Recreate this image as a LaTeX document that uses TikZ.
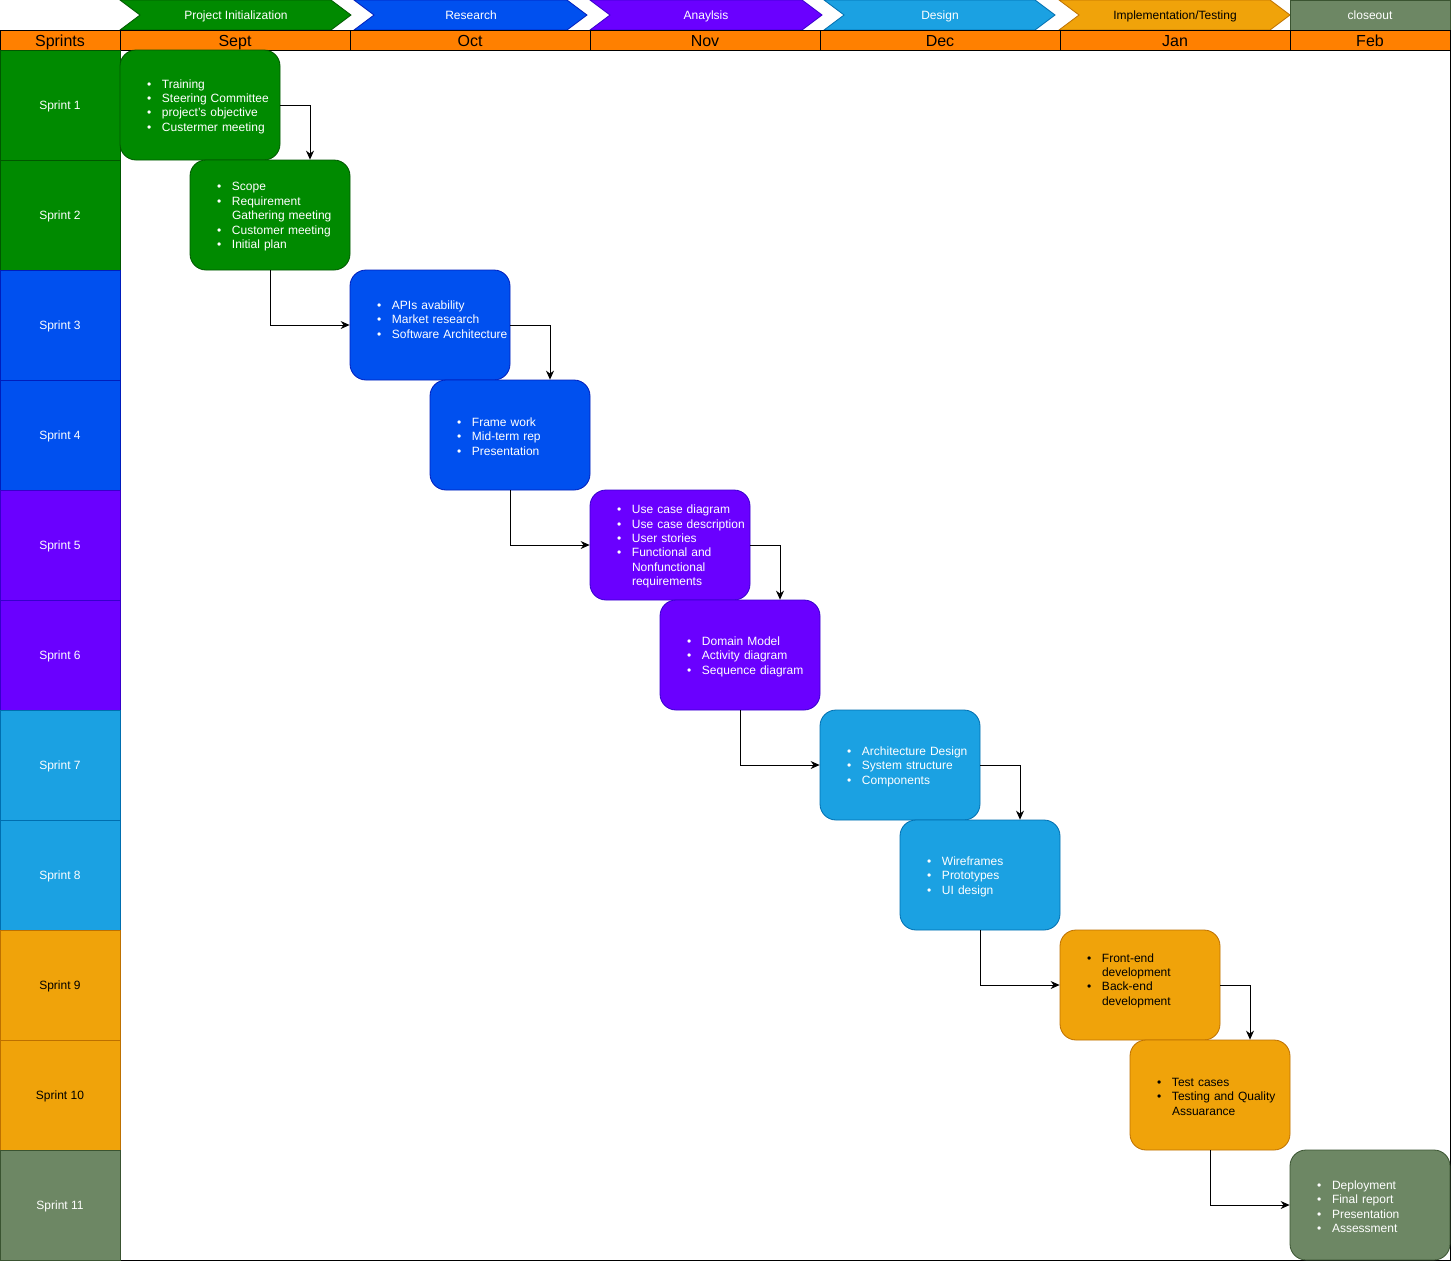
\documentclass[tikz,border=0pt]{standalone}
\usepackage{fontspec}
\setmainfont{Liberation Sans}
\usetikzlibrary{arrows.meta}
\definecolor{gF}{HTML}{008A00}\definecolor{gS}{HTML}{005700}
\definecolor{bF}{HTML}{0050EF}\definecolor{bS}{HTML}{001DBC}
\definecolor{pF}{HTML}{6A00FF}\definecolor{pS}{HTML}{3700CC}
\definecolor{lF}{HTML}{1BA1E2}\definecolor{lS}{HTML}{006EAF}
\definecolor{oF}{HTML}{F0A30A}\definecolor{oS}{HTML}{BD7000}
\definecolor{sF}{HTML}{6D8764}\definecolor{sS}{HTML}{3A5431}
\definecolor{mF}{HTML}{FF8000}
\newcommand{\bitem}{\rule{0pt}{11.8pt}\hspace*{27pt}\makebox[15pt][l]{\textbullet}}
\newcommand{\citem}{\rule{0pt}{11.8pt}\hspace*{42pt}}
\tikzset{
  every node/.style={font=\fontsize{12}{14.4}\selectfont},
  task/.style 2 args={draw=#2, fill=#1, line width=0.8pt, rounded corners=16pt,
    minimum width=160pt, minimum height=110pt, text width=160pt,
    inner xsep=0pt, inner ysep=0pt, align=left, text=white},
  cell/.style 2 args={draw=#2, fill=#1, line width=0.8pt, minimum width=120pt,
    minimum height=110pt, inner sep=0pt, text=white, text height=10.6pt, text depth=1pt},
  mon/.style={draw=black, fill=mF, line width=0.8pt, minimum height=20pt,
    inner sep=0pt, font=\fontsize{16}{18}\selectfont, text height=13.5pt, text depth=1pt},
  chev/.style={line width=0.8pt},
  chevtxt/.style={inner sep=0pt, text=white, text height=10.6pt, text depth=1pt},
  arr/.style={-{Stealth[length=9pt,width=8pt,inset=3pt]}, line width=0.8pt, black}
}
\begin{document}
\begin{tikzpicture}[x=1pt,y=-1pt]
\useasboundingbox (0,0) rectangle (1452,1262);
\fill[white] (0,0) rectangle (1452,1262);
% main frame
\draw[line width=0.8pt, fill=white] (120,50) rectangle (1450,1260);
% chevrons
\filldraw[chev, fill=gF, draw=gS] (120,0) -- (331,0) -- (351,15) -- (331,30) -- (120,30) -- (140,15) -- cycle;
\node[chevtxt] (c1) at (236,15) {Project Initialization};
\filldraw[chev, fill=bF, draw=bS] (354,0) -- (567,0) -- (587,15) -- (567,30) -- (354,30) -- (374,15) -- cycle;
\node[chevtxt] (c2) at (471,15) {Research};
\filldraw[chev, fill=pF, draw=pS] (590,0) -- (802,0) -- (822,15) -- (802,30) -- (590,30) -- (610,15) -- cycle;
\node[chevtxt] (c3) at (706,15) {Anaylsis};
\filldraw[chev, fill=lF, draw=lS] (824,0) -- (1035,0) -- (1055,15) -- (1035,30) -- (824,30) -- (844,15) -- cycle;
\node[chevtxt] (c4) at (940,15) {Design};
\filldraw[chev, fill=oF, draw=oS] (1059,0) -- (1270,0) -- (1290,15) -- (1270,30) -- (1059,30) -- (1079,15) -- cycle;
\node[chevtxt, text=black] (c5) at (1175,15) {Implementation/Testing};
\node[draw=sS, fill=sF, line width=0.8pt, minimum width=160pt, minimum height=30pt, inner sep=0pt, text=white, text height=10.6pt, text depth=1pt] (c6) at (1370,15) {closeout};
% months
\node[mon, minimum width=120pt] (m0) at (60,40) {Sprints};
\node[mon, minimum width=230pt] (m1) at (235,40) {Sept};
\node[mon, minimum width=240pt] (m2) at (470,40) {Oct};
\node[mon, minimum width=230pt] (m3) at (705,40) {Nov};
\node[mon, minimum width=240pt] (m4) at (940,40) {Dec};
\node[mon, minimum width=230pt] (m5) at (1175,40) {Jan};
\node[mon, minimum width=160pt] (m6) at (1370,40) {Feb};
% sprints
\node[cell={gF}{gS}] (s1) at (60,105) {Sprint 1};
\node[cell={gF}{gS}] (s2) at (60,215) {Sprint 2};
\node[cell={bF}{bS}] (s3) at (60,325) {Sprint 3};
\node[cell={bF}{bS}] (s4) at (60,435) {Sprint 4};
\node[cell={pF}{pS}] (s5) at (60,545) {Sprint 5};
\node[cell={pF}{pS}] (s6) at (60,655) {Sprint 6};
\node[cell={lF}{lS}] (s7) at (60,765) {Sprint 7};
\node[cell={lF}{lS}] (s8) at (60,875) {Sprint 8};
\node[cell={oF}{oS}, text=black] (s9) at (60,985) {Sprint 9};
\node[cell={oF}{oS}, text=black] (s10) at (60,1095) {Sprint 10};
\node[cell={sF}{sS}] (s11) at (60,1205) {Sprint 11};
% tasks
\node[task={gF}{gS}] (b1) at (200,105) {\bitem Training\\\bitem Steering Committee\\\bitem project's objective\\\bitem Custermer meeting};
\node[task={gF}{gS}] (b2) at (270,215) {\bitem Scope\\\bitem Requirement\\\citem Gathering meeting\\\bitem Customer meeting\\\bitem Initial plan};
\node[task={bF}{bS}] (b3) at (430,325) {\bitem APIs avability\\\bitem Market research\\\bitem Software Architecture\\\mbox{}};
\node[task={bF}{bS}] (b4) at (510,435) {\bitem Frame work\\\bitem Mid-term rep\\\bitem Presentation};
\node[task={pF}{pS}] (b5) at (670,545) {\bitem Use case diagram\\\bitem Use case description\\\bitem User stories\\\bitem Functional and\\\citem Nonfunctional\\\citem requirements};
\node[task={pF}{pS}] (b6) at (740,655) {\bitem Domain Model\\\bitem Activity diagram\\\bitem Sequence diagram};
\node[task={lF}{lS}] (b7) at (900,765) {\bitem Architecture Design\\\bitem System structure\\\bitem Components};
\node[task={lF}{lS}] (b8) at (980,875) {\bitem Wireframes\\\bitem Prototypes\\\bitem UI design};
\node[task={oF}{oS}, text=black] (b9) at (1140,985) {\bitem Front-end\\\citem development\\\bitem Back-end\\\citem development\\\mbox{}};
\node[task={oF}{oS}, text=black] (b10) at (1210,1095) {\bitem Test cases\\\bitem Testing and Quality\\\citem Assuarance};
\node[task={sF}{sS}] (b11) at (1370,1205) {\bitem Deployment\\\bitem Final report\\\bitem Presentation\\\bitem Assessment};
% connectors
\draw[arr] (b1.east) -| ([xshift=40pt]b2.north);
\draw[arr] (b2.south) |- (b3.west);
\draw[arr] (b3.east) -| ([xshift=40pt]b4.north);
\draw[arr] (b4.south) |- (b5.west);
\draw[arr] (b5.east) -| ([xshift=40pt]b6.north);
\draw[arr] (b6.south) |- (b7.west);
\draw[arr] (b7.east) -| ([xshift=40pt]b8.north);
\draw[arr] (b8.south) |- (b9.west);
\draw[arr] (b9.east) -| ([xshift=40pt]b10.north);
\draw[arr] (b10.south) |- (b11.west);
\end{tikzpicture}
\end{document}
